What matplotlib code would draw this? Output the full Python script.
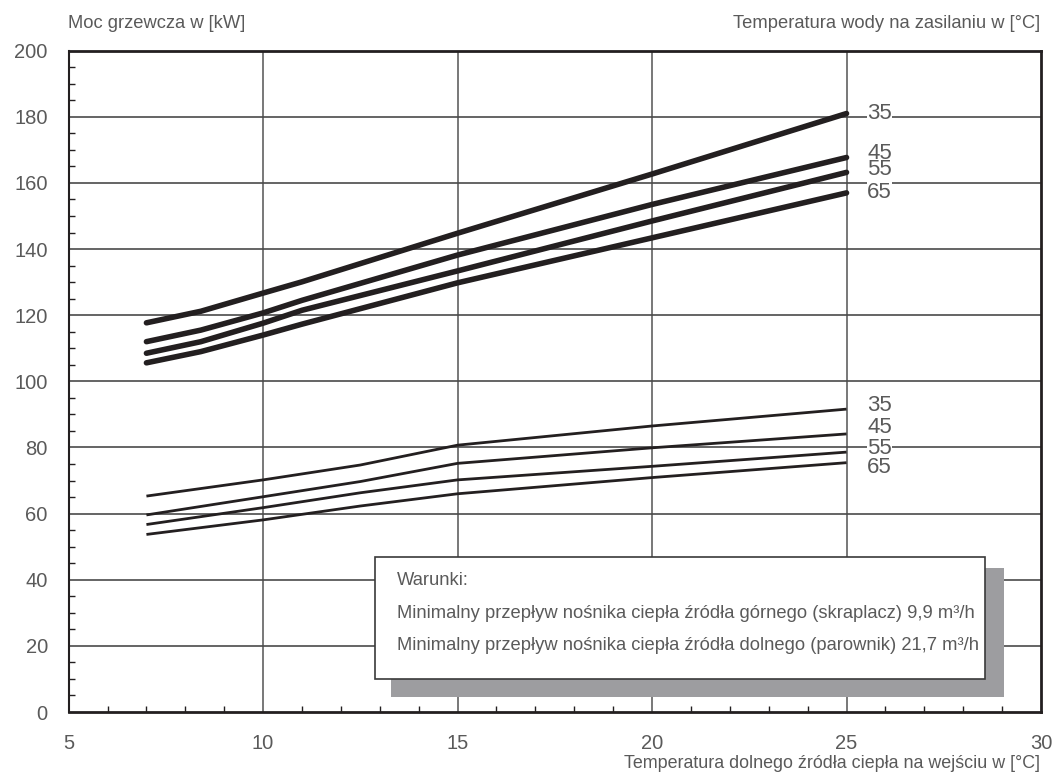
import matplotlib
matplotlib.use("Agg")
import matplotlib.pyplot as plt
from matplotlib.patches import Rectangle
from matplotlib.ticker import MultipleLocator

plt.rcParams['font.family'] = ['Liberation Sans', 'DejaVu Sans']

# ---- data ----
supply_temps = ["35", "45", "55", "65"]

x_upper = [7, 8.4, 10, 11, 15, 20, 25]
upper_35 = [117.7, 121.2, 126.7, 130.1, 144.8, 162.7, 181.0]
upper_45 = [112.0, 115.5, 120.7, 124.5, 138.2, 153.5, 167.7]
upper_55 = [108.5, 112.0, 117.6, 121.5, 133.4, 148.5, 163.2]
upper_65 = [105.6, 109.0, 114.0, 117.3, 129.8, 143.4, 157.0]

x_lower = [7, 10, 12.5, 15, 20, 25]
lower_35 = [65.3, 70.2, 74.7, 80.7, 86.5, 91.6]
lower_45 = [59.6, 65.1, 69.7, 75.2, 79.9, 84.1]
lower_55 = [56.7, 61.8, 66.3, 70.2, 74.3, 78.6]
lower_65 = [53.7, 58.1, 62.3, 66.0, 70.9, 75.4]

upper_label_y = [181, 169, 164, 157]
lower_label_y = [92.8, 85.9, 79.8, 74]

x_ticks = [5, 10, 15, 20, 25, 30]
y_ticks = [0, 20, 40, 60, 80, 100, 120, 140, 160, 180, 200]

title_left = "Moc grzewcza w [kW]"
title_right = "Temperatura wody na zasilaniu w [°C]"
x_label = "Temperatura dolnego źródła ciepła na wejściu w [°C]"
box_lines = ["Warunki:",
             "Minimalny przepływ nośnika ciepła źródła górnego (skraplacz) 9,9 m³/h",
             "Minimalny przepływ nośnika ciepła źródła dolnego (parownik) 21,7 m³/h"]

TXT = '#5a5a5a'
LINE = '#231f20'

fig = plt.figure(figsize=(10.56, 7.74), dpi=100)
ax = fig.add_axes([0.065, 0.0801, 0.9208, 0.8544])
ax.set_xlim(5, 30)
ax.set_ylim(0, 200)

# grid
for xv in [10, 15, 20, 25]:
    ax.axvline(xv, color='#6d6d6d', lw=1.3, zorder=1)
for yv in y_ticks[1:-1]:
    ax.axhline(yv, color='#4a4a4a', lw=1.2, zorder=1)

for ys in [upper_35, upper_45, upper_55, upper_65]:
    ax.plot(x_upper, ys, color=LINE, lw=4, solid_capstyle='round', zorder=3)
for ys in [lower_35, lower_45, lower_55, lower_65]:
    ax.plot(x_lower, ys, color=LINE, lw=2, solid_capstyle='butt', zorder=3)

for lab, yv in zip(supply_temps, upper_label_y):
    ax.text(25.85, yv, lab, ha='center', va='center', fontsize=16, color=TXT,
            bbox=dict(facecolor='white', edgecolor='none', pad=0.1), zorder=4)
for lab, yv in zip(supply_temps, lower_label_y):
    ax.text(25.85, yv, lab, ha='center', va='center', fontsize=16, color=TXT,
            bbox=dict(facecolor='white', edgecolor='none', pad=0.1), zorder=4)

# ticks
ax.set_xticks(x_ticks)
ax.set_yticks(y_ticks)
ax.xaxis.set_minor_locator(MultipleLocator(1))
ax.yaxis.set_minor_locator(MultipleLocator(5))
ax.tick_params(axis='both', which='major', length=0, labelsize=14.5, labelcolor=TXT)
ax.tick_params(axis='x', which='major', pad=16)
ax.tick_params(axis='y', which='major', pad=15)
ax.tick_params(axis='both', which='minor', direction='in', length=4.5, width=1, color=LINE)
for s in ax.spines.values():
    s.set_color(LINE)
    s.set_linewidth(2)
ax.spines['left'].set_linewidth(1.5)

# conditions box with shadow
ax.add_patch(Rectangle((13.29, 4.5), 29.05 - 13.29, 43.5 - 4.5, facecolor='#9d9da0', edgecolor='none', zorder=5))
ax.add_patch(Rectangle((12.87, 10.0), 28.55 - 12.87, 36.9, facecolor='white', edgecolor='#3a3a3a', lw=1.2, zorder=6))
box_y = [39.9, 29.9, 20.0]
for t, yv in zip(box_lines, box_y):
    ax.text(13.44, yv, t, ha='left', va='center', fontsize=13.2, color=TXT, zorder=7)

fig.text(68 / 1056, 1 - 23 / 774, title_left, ha='left', va='center', fontsize=13.2, color=TXT)
fig.text(1040 / 1056, 1 - 23 / 774, title_right, ha='right', va='center', fontsize=13.2, color=TXT)
fig.text(1040 / 1056, 1 - 764 / 774, x_label, ha='right', va='center', fontsize=12.9, color=TXT)

fig.savefig("out.png", dpi=100)
